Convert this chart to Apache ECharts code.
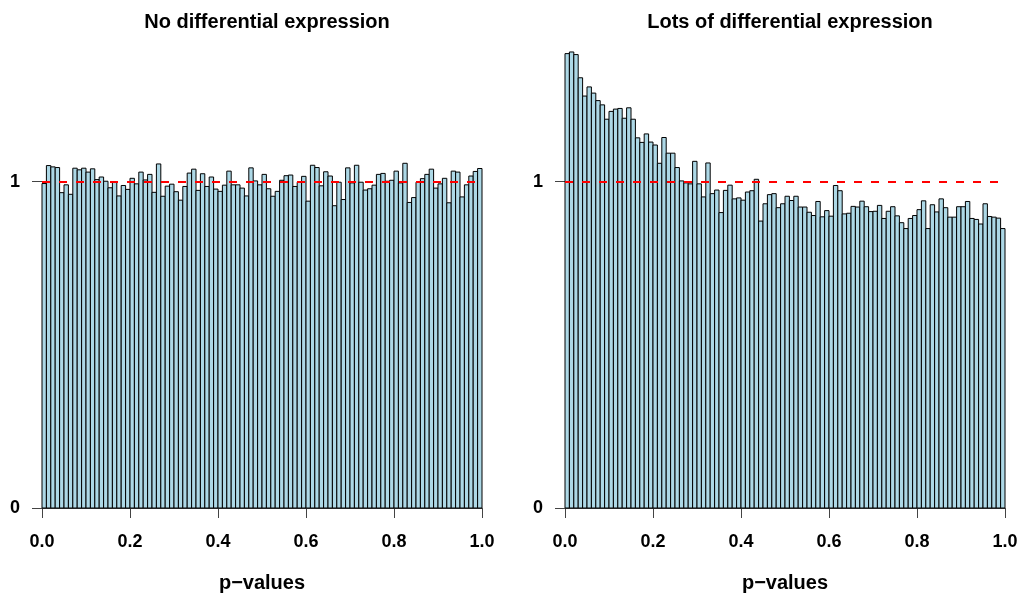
<!DOCTYPE html>
<html>
<head>
<meta charset="utf-8">
<script src="https://cdn.jsdelivr.net/npm/echarts@6/dist/echarts.min.js"></script>
<style>
html,body{margin:0;padding:0;background:#fff;}
#chart{width:1023px;height:598px;}
</style>
</head>
<body>
<div id="chart"></div>
<script>
// ---- data ----
var titles = ['No differential expression', 'Lots of differential expression'];
var xAxisTitle = 'p\u2212values';
var binCount = 100;
var categories = [];
for (var i = 0; i < binCount; i++) { categories.push((i / binCount).toFixed(2)); }
var yTickValues = [0, 1];
var referenceLevel = 1;

var noDiffDensity = [
  0.994, 1.049, 1.045, 1.043, 0.966, 0.990, 0.961, 1.041, 1.036, 1.041,
  1.029, 1.039, 1.006, 1.014, 1.001, 0.981, 1.000, 0.956, 0.988, 0.976,
  1.010, 0.993, 1.029, 1.005, 1.022, 0.967, 1.054, 0.955, 0.986, 0.992,
  0.969, 0.943, 0.985, 1.026, 1.038, 0.973, 1.024, 0.985, 1.014, 0.977,
  0.970, 0.989, 1.032, 0.990, 0.990, 0.980, 0.956, 1.042, 1.002, 0.990,
  1.022, 0.978, 0.955, 0.970, 1.004, 1.018, 1.020, 0.985, 0.998, 1.016,
  0.940, 1.050, 1.043, 0.987, 1.030, 1.017, 0.926, 0.998, 0.945, 1.042,
  0.996, 1.050, 0.998, 0.974, 0.978, 0.989, 1.022, 1.025, 1.001, 1.004,
  1.032, 0.996, 1.056, 0.936, 0.951, 0.998, 1.009, 1.022, 1.038, 0.980,
  0.993, 1.010, 0.935, 1.032, 1.029, 0.953, 0.990, 1.017, 1.031, 1.040
];

var lotsDiffDensity = [
  1.392, 1.397, 1.389, 1.318, 1.262, 1.290, 1.271, 1.248, 1.235, 1.191,
  1.215, 1.222, 1.224, 1.194, 1.226, 1.191, 1.134, 1.120, 1.146, 1.121,
  1.112, 1.056, 1.135, 1.087, 1.087, 1.043, 1.002, 0.996, 0.993, 1.062,
  0.993, 0.953, 1.057, 0.963, 0.974, 0.905, 0.973, 0.989, 0.947, 0.950,
  0.943, 0.968, 0.972, 1.007, 0.879, 0.932, 0.960, 0.963, 0.920, 0.932,
  0.955, 0.942, 0.955, 0.922, 0.922, 0.906, 0.896, 0.939, 0.892, 0.911,
  0.894, 0.988, 0.972, 0.901, 0.903, 0.924, 0.922, 0.940, 0.923, 0.908,
  0.909, 0.927, 0.887, 0.909, 0.923, 0.895, 0.874, 0.856, 0.887, 0.896,
  0.914, 0.941, 0.856, 0.929, 0.907, 0.947, 0.920, 0.891, 0.891, 0.923,
  0.923, 0.939, 0.887, 0.884, 0.870, 0.932, 0.893, 0.891, 0.888, 0.856
];

// ---- chart ----
var FONT = '"Liberation Sans", Arial, Helvetica, sans-serif';
var axisGrey = '#444';
var grids = [
  {left: 42, top: 51, width: 440, height: 461},
  {left: 565, top: 51, width: 440, height: 461}
];
var seriesData = [noDiffDensity, lotsDiffDensity];

function renderBin(params, api) {
  var idx = api.value(0);
  var val = api.value(1);
  var top = api.coord([idx, val]);
  var base = api.coord([idx, 0]);
  var bw = api.size([1, 0])[0];
  return {
    type: 'rect',
    shape: {x: top[0] - bw / 2, y: top[1], width: bw, height: base[1] - top[1]},
    style: {fill: '#ADD8E6', stroke: '#000', lineWidth: 1}
  };
}

var option = {
  animation: false,
  backgroundColor: '#fff',
  title: titles.map(function (t, k) {
    return {
      text: t,
      left: grids[k].left + grids[k].width / 2,
      top: 7,
      textAlign: 'center',
      textStyle: {fontFamily: FONT, fontWeight: 'bold', fontSize: 20, color: '#000'}
    };
  }),
  grid: grids,
  xAxis: [],
  yAxis: [],
  series: []
};

for (var k = 0; k < 2; k++) {
  option.xAxis.push({
    type: 'category', gridIndex: k, data: categories, show: false, boundaryGap: true
  });
  option.xAxis.push({
    type: 'value', gridIndex: k, min: 0, max: 1, interval: 0.2, position: 'bottom',
    name: xAxisTitle, nameLocation: 'middle', nameGap: 65,
    nameTextStyle: {fontFamily: FONT, fontWeight: 'bold', fontSize: 20, color: '#000'},
    axisLine: {show: true, lineStyle: {color: axisGrey, width: 1}},
    axisTick: {show: true, length: 10, lineStyle: {color: axisGrey, width: 1}},
    axisLabel: {
      margin: 25, fontFamily: FONT, fontWeight: 'bold', fontSize: 18, color: '#000',
      formatter: function (v) { return v.toFixed(1); }
    },
    splitLine: {show: false}
  });
  option.yAxis.push({
    type: 'value', gridIndex: k, min: 0, max: 1.4,
    axisLine: {show: false},
    axisTick: {show: true, length: 10, customValues: yTickValues, lineStyle: {color: axisGrey, width: 1}},
    axisLabel: {
      margin: 22, fontFamily: FONT, fontWeight: 'bold', fontSize: 18, color: '#000',
      customValues: yTickValues,
      formatter: function (v) { return String(Math.round(v)); }
    },
    splitLine: {show: false}
  });
  option.series.push({
    type: 'custom',
    xAxisIndex: k * 2,
    yAxisIndex: k,
    renderItem: renderBin,
    encode: {x: 0, y: 1},
    data: seriesData[k].map(function (v, j) { return [j, v]; }),
    silent: true,
    z: 2
  });
  option.series.push({
    type: 'line',
    xAxisIndex: k * 2 + 1,
    yAxisIndex: k,
    data: [],
    silent: true,
    markLine: {
      silent: true,
      symbol: ['none', 'none'],
      label: {show: false},
      lineStyle: {color: '#FF0000', type: [8, 9], width: 2, opacity: 1},
      data: [{yAxis: referenceLevel}]
    },
    z: 5
  });
}

var chart = echarts.init(document.getElementById('chart'), null, {renderer: 'canvas'});
chart.setOption(option);
</script>
</body>
</html>
